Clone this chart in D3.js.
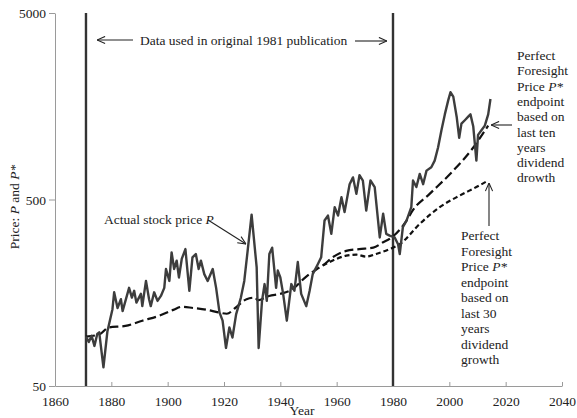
<!DOCTYPE html>
<html>
<head>
<meta charset="utf-8">
<script src="https://cdn.jsdelivr.net/npm/d3@7"></script>
<style>
  body { margin: 0; background: #fff; }
  svg text { font-family: "Liberation Serif", "Times New Roman", serif; fill: #222; }
</style>
</head>
<body>
<svg id="chart" width="577" height="418"></svg>
<script>
// actual real stock price P
const priceYears = [1871,1872,1873,1874,1875,1875.7,1877.2,1878.6,1880.4,1881,1882.2,1883.4,1884,1886.3,1887.3,1888.1,1888.9,1890.5,1891,1892.3,1893.4,1894,1895.2,1896.4,1897.6,1898.8,1899.4,1900.6,1901.4,1902.3,1903.2,1904,1905,1906.3,1907.7,1908.8,1910,1911,1911.8,1913,1914.2,1916,1917.2,1918.4,1919.5,1920.7,1921.9,1923,1924.3,1926,1927.2,1928.4,1929.8,1931.6,1932.3,1933.5,1934.4,1935.2,1936.1,1937.1,1938.5,1939.1,1940,1941,1942.3,1943.9,1945,1946.2,1947.4,1949.2,1950.4,1951.5,1953.3,1954.5,1955.7,1956.9,1958.1,1959.3,1960.5,1961.7,1962.8,1964.6,1965.8,1967,1968.1,1969.3,1970.5,1972,1973.5,1975.3,1976.5,1977.6,1978.8,1980.6,1981.8,1982.4,1983.5,1984.8,1986.5,1987.1,1988.3,1989.5,1990.7,1991.9,1993.6,1994.8,1996,1997.2,1998.4,1999.6,2000.4,2001.4,2002.6,2003.5,2004.3,2005.5,2006.7,2007.5,2008.5,2009.6,2010.2,2011.4,2012.6,2013.8,2014.6];
const priceValues = [92,86,93,82,95,97,63,98,129,159,131,146,126,168,149,162,140,156,134,183,146,134,159,143,152,168,212,183,260,212,235,191,240,271,162,245,255,212,235,199,183,212,168,124,112,80,103,91,121,149,183,266,415,216,80,143,176,143,255,276,168,208,191,156,112,176,162,231,156,134,162,199,225,245,386,410,327,455,410,514,428,604,657,536,675,632,436,632,583,313,420,327,320,313,288,255,355,385,455,632,583,686,604,714,745,808,950,1175,1430,1700,1880,1780,1390,1070,1275,1330,1390,1430,1230,808,1110,1175,1245,1430,1730];

// perfect foresight price, endpoint from last ten years dividend growth
const pStar10Years = [1871,1876,1879,1885,1891,1897,1902,1905,1909,1914,1918,1921,1924,1928,1931,1932,1936,1940,1944,1949,1953,1955,1958.6,1963.4,1968,1973,1976.5,1979,1984.8,1987,1993,2001.4,2008.5,2013.8];
const pStar10Values = [92,95,103,105,112,119,128,133,131,128,124,122,131,146,149,144,152,156,164,192,212,221,245,265,271,276,295,309,385,437,536,714,950,1245];

// perfect foresight price, endpoint from last 30 years dividend growth
const pStar30Years = [1955,1957.5,1963.4,1967,1970.5,1974,1978.8,1982.4,1989.5,1996.6,2003.7,2009.6,2013.8];
const pStar30Values = [221,231,250,253,247,255,271,288,370,455,525,583,632];

const xTicks = [1860,1880,1900,1920,1940,1960,1980,2000,2020,2040];
const yTicks = [50,500,5000];
const markYears = [1871,1980];

const svg = d3.select("#chart");
const x = d3.scaleLinear().domain([1860, 2040]).range([55, 562]);
const y = d3.scaleLog().domain([50, 5000]).range([386, 13]);

const defs = svg.append("defs");
defs.append("marker")
  .attr("id", "arr")
  .attr("viewBox", "0 0 10 10")
  .attr("refX", 10).attr("refY", 5)
  .attr("markerWidth", 9).attr("markerHeight", 9)
  .attr("markerUnits", "userSpaceOnUse")
  .attr("orient", "auto-start-reverse")
  .append("path")
  .attr("d", "M1,1 L10,5 L1,9")
  .attr("fill", "none").attr("stroke", "#222").attr("stroke-width", 1.2);

// axes
const xAxis = svg.append("g")
  .attr("transform", `translate(0,${y(50)})`)
  .call(d3.axisBottom(x).tickValues(xTicks).tickFormat(d3.format("d"))
    .tickSizeInner(-4).tickSizeOuter(0).tickPadding(10));
const yAxis = svg.append("g")
  .attr("transform", `translate(${x(1860)},0)`)
  .call(d3.axisLeft(y).tickValues(yTicks).tickFormat(d3.format("d"))
    .tickSizeInner(6).tickSizeOuter(0).tickPadding(3));
svg.selectAll(".domain, .tick line").attr("stroke", "#9a9a9a").attr("stroke-width", 1);
svg.selectAll(".tick text").style("font-size", "13.5px")
  .style("font-family", "'Liberation Serif', serif").attr("fill", "#222");
yAxis.selectAll(".tick text").attr("dy", "0.35em");

// vertical marker lines
svg.selectAll(".vline").data(markYears).enter().append("line")
  .attr("class", "vline")
  .attr("x1", d => x(d)).attr("x2", d => x(d))
  .attr("y1", y(5000)).attr("y2", y(50))
  .attr("stroke", "#333").attr("stroke-width", 2.4);

const line = d3.line().x(d => x(d[0])).y(d => y(d[1]));

svg.append("path")
  .datum(d3.zip(pStar10Years, pStar10Values))
  .attr("d", line.curve(d3.curveMonotoneX))
  .attr("fill", "none").attr("stroke", "#111").attr("stroke-width", 2.2)
  .attr("stroke-dasharray", "9,4");

svg.append("path")
  .datum(d3.zip(pStar30Years, pStar30Values))
  .attr("d", line.curve(d3.curveMonotoneX))
  .attr("fill", "none").attr("stroke", "#111").attr("stroke-width", 2.2)
  .attr("stroke-dasharray", "5,3");

svg.append("path")
  .datum(d3.zip(priceYears, priceValues))
  .attr("d", line.curve(d3.curveLinear))
  .attr("fill", "none").attr("stroke", "#3d3d3d").attr("stroke-width", 2.4)
  .attr("stroke-linejoin", "round");

// labels
svg.append("text").attr("x", 302).attr("y", 415).attr("text-anchor", "middle")
  .style("font-size", "13.5px").text("Year");

const yl = svg.append("text")
  .attr("transform", "translate(19,207) rotate(-90)")
  .attr("text-anchor", "middle").style("font-size", "13.5px");
yl.append("tspan").text("Price: ");
yl.append("tspan").style("font-style", "italic").text("P");
yl.append("tspan").text(" and ");
yl.append("tspan").style("font-style", "italic").text("P*");

// top annotation
svg.append("text").attr("x", 140).attr("y", 45).style("font-size", "13.5px")
  .text("Data used in original 1981 publication");
svg.append("line").attr("x1", 133).attr("x2", 97).attr("y1", 40).attr("y2", 40)
  .attr("stroke", "#222").attr("stroke-width", 1.1).attr("marker-end", "url(#arr)");
svg.append("line").attr("x1", 355).attr("x2", 387).attr("y1", 41).attr("y2", 41)
  .attr("stroke", "#222").attr("stroke-width", 1.1).attr("marker-end", "url(#arr)");

// actual price annotation
const ap = svg.append("text").attr("x", 104).attr("y", 224).style("font-size", "13.5px");
ap.append("tspan").text("Actual stock price ");
ap.append("tspan").style("font-style", "italic").text("P");
svg.append("line").attr("x1", 208).attr("y1", 220).attr("x2", 246).attr("y2", 244)
  .attr("stroke", "#222").attr("stroke-width", 1.1).attr("marker-end", "url(#arr)");

function block(lines, x0, y0, dy) {
  const t = svg.append("text").style("font-size", "13.5px");
  lines.forEach((s, i) => {
    const row = t.append("tspan").attr("x", x0).attr("y", y0 + i * dy);
    if (s === "Price P*") {
      row.append("tspan").text("Price ");
      row.append("tspan").style("font-style", "italic").text("P*");
    } else row.text(s);
  });
}
block(["Perfect","Foresight","Price P*","endpoint","based on","last ten","years","dividend","drowth"], 517, 60, 15.3);
svg.append("line").attr("x1", 512).attr("x2", 491).attr("y1", 125).attr("y2", 125)
  .attr("stroke", "#222").attr("stroke-width", 1.1).attr("marker-end", "url(#arr)");

block(["Perfect","Foresight","Price P*","endpoint","based on","last 30","years","dividend","growth"], 461, 240, 15.5);
svg.append("line").attr("x1", 489).attr("x2", 489).attr("y1", 226).attr("y2", 183)
  .attr("stroke", "#222").attr("stroke-width", 1.1).attr("marker-end", "url(#arr)");
</script>
</body>
</html>
